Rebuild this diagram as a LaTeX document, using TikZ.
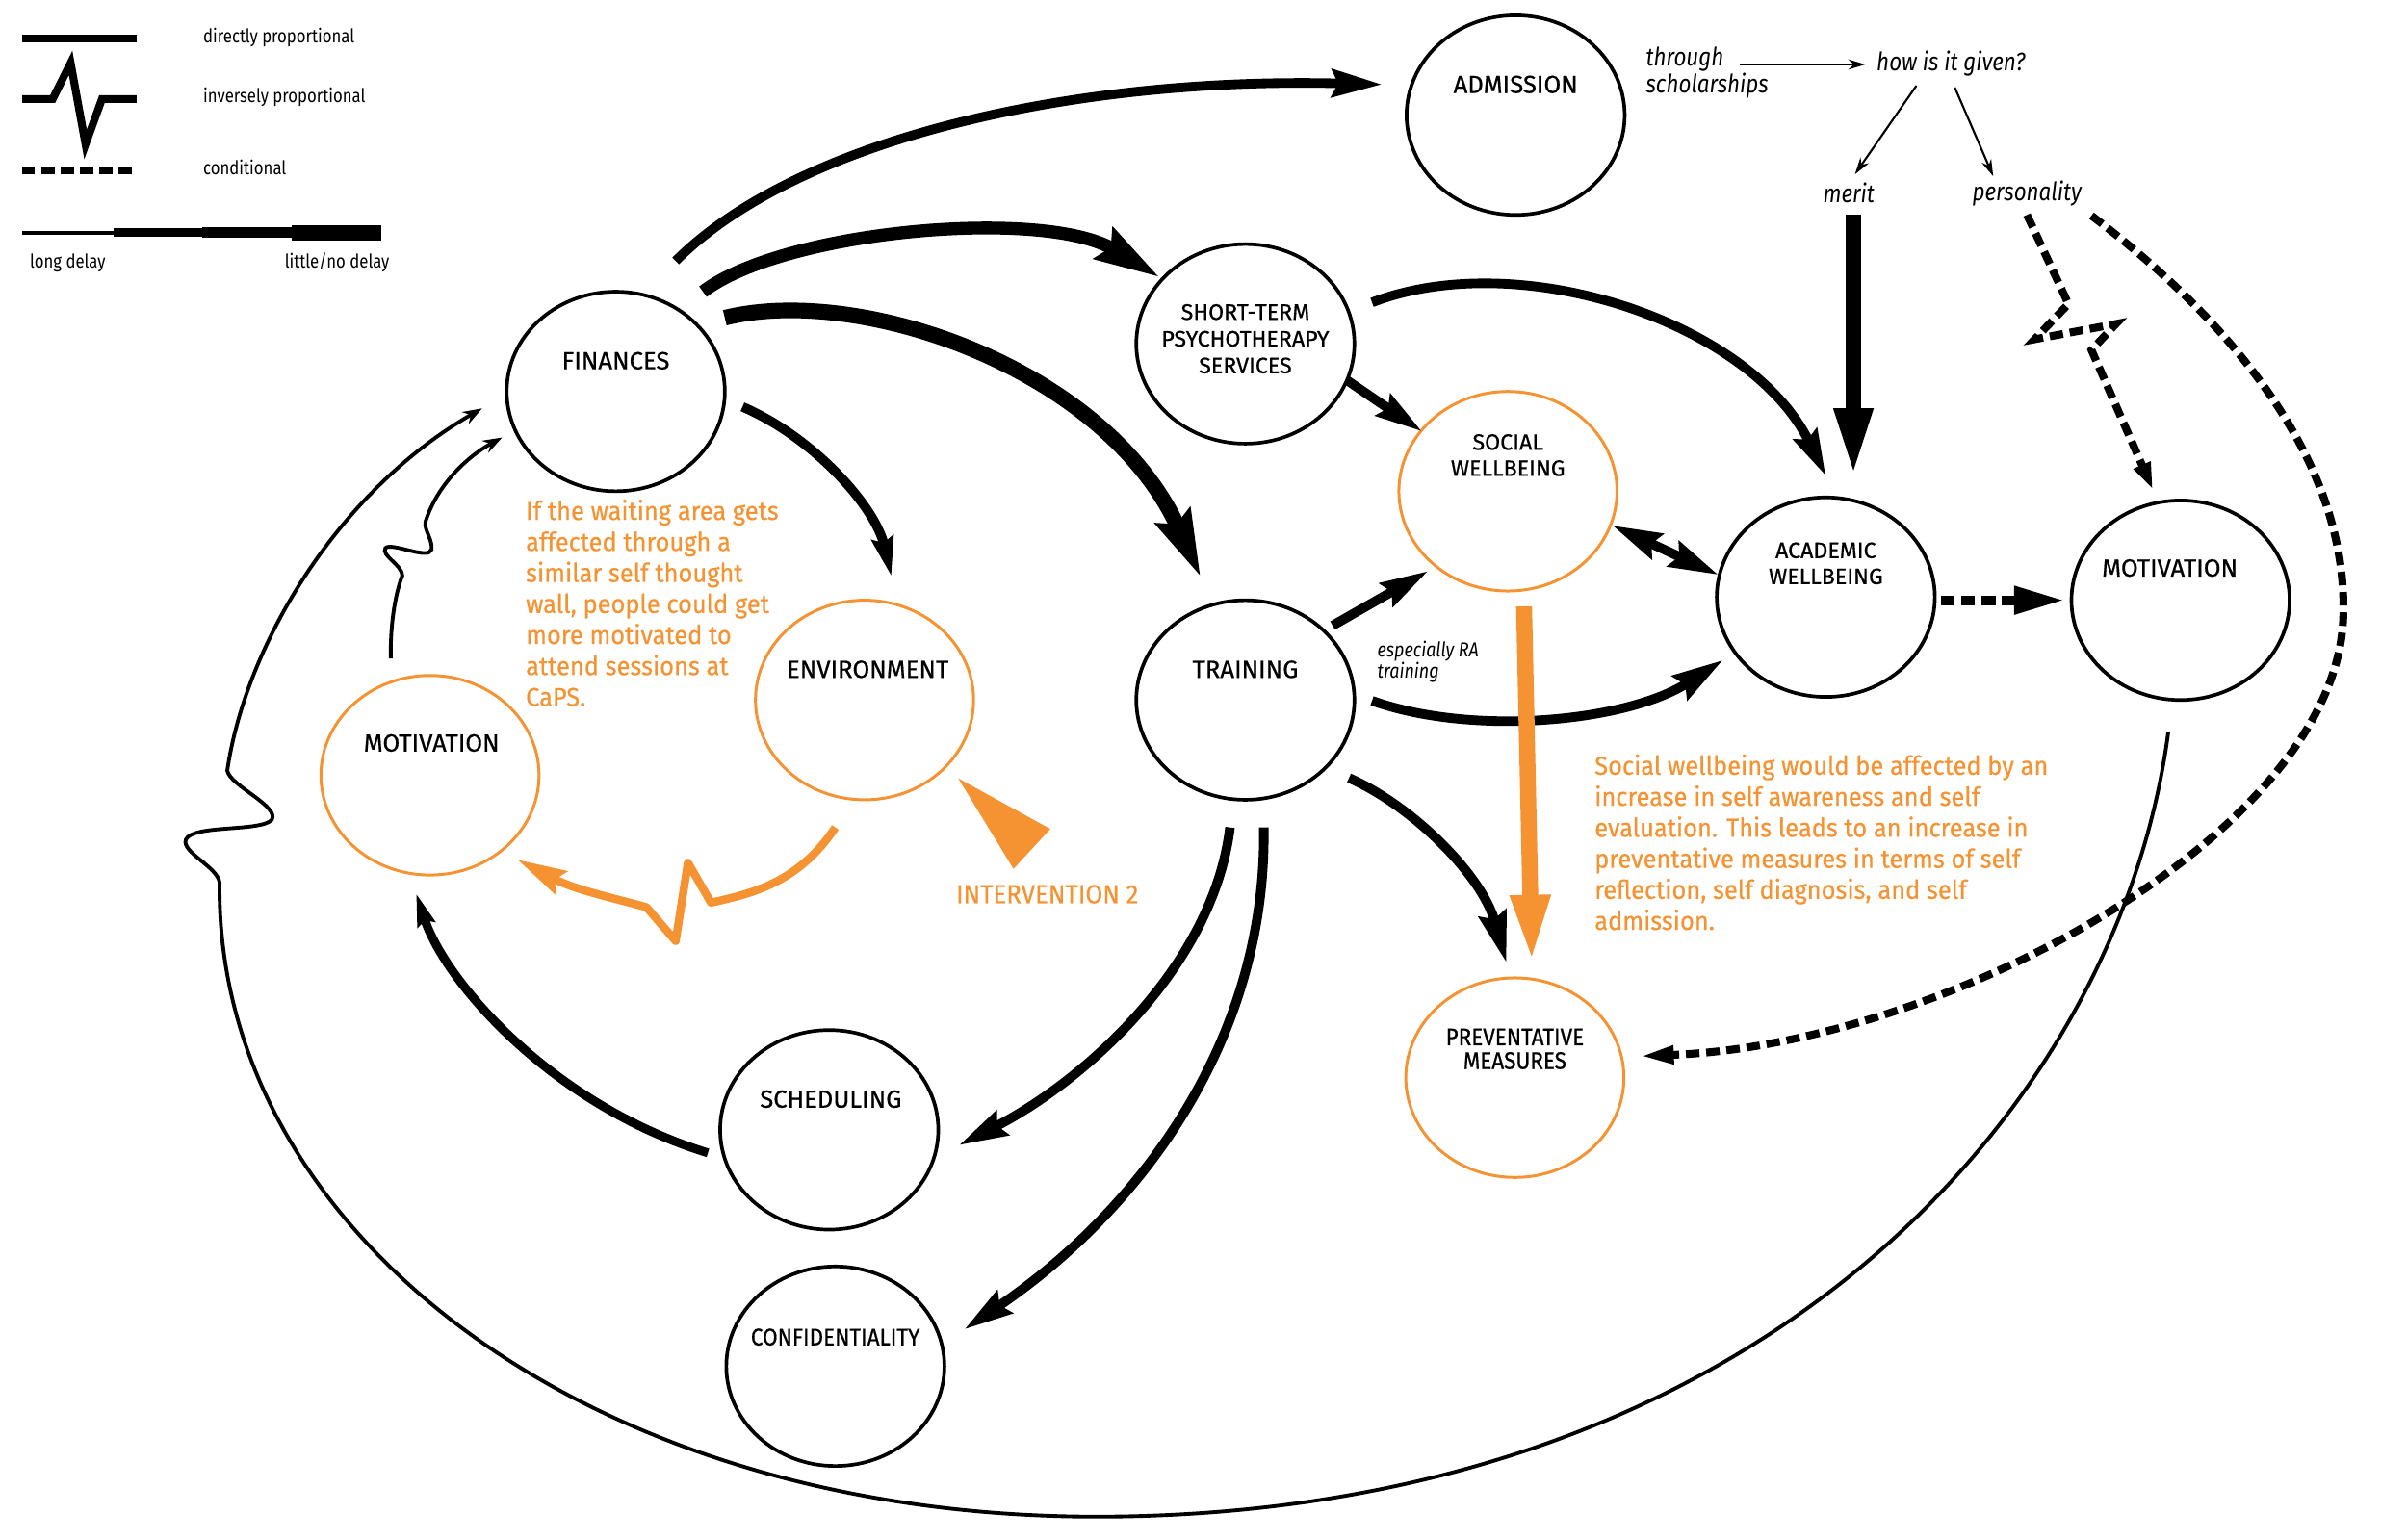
\documentclass[tikz,border=0pt]{standalone}
\usepackage{fontspec}
\setmainfont{Fira Sans}
\newfontfamily\cond[FakeStretch=0.85]{Fira Sans}
\newfontfamily\labf[FakeBold=0.6]{Fira Sans}
\newfontfamily\labc[FakeStretch=0.9,FakeBold=0.6]{Fira Sans}
\newfontfamily\ofont[FakeStretch=0.94,FakeBold=0.45]{Fira Sans}
\usetikzlibrary{arrows.meta,calc,shapes.geometric}
\definecolor{org}{RGB}{245,147,50}
\begin{document}
\begin{tikzpicture}[x=0.015949cm,y=-0.015949cm,
  nd/.style={ellipse,draw=black,line width=1.05pt,minimum width=2.265cm,minimum height=2.073cm,inner sep=0pt},
  ond/.style={nd,draw=org,line width=0.85pt},
  lab/.style={font=\labf\fontsize{7.3}{7.8}\selectfont,inner sep=0pt,align=center},
  labm/.style={font=\labf\fontsize{6.6}{#1}\selectfont,inner sep=0pt,align=center},
  labs/.style={font=\labc\fontsize{7.1}{7}\selectfont,inner sep=0pt,align=center},
  otext/.style={font=\ofont\fontsize{7.7}{9.17}\selectfont,text=org,inner sep=0pt,align=left},
  itx/.style={font=\cond\itshape\fontsize{7.5}{8}\selectfont,inner sep=0pt,align=left},
  leg/.style={font=\cond\fontsize{5.6}{6}\selectfont,inner sep=0pt},
  tipA/.style={-{Stealth[length=#1,width=0.55*#1,inset=0.12*#1]}},
  con/.style={line width=#1},
]
\useasboundingbox (0,0) rectangle (1567.5,1002.6);

% ---------- legend ----------
\draw[line width=2.3pt] (14.5,25) -- (89,25);
\draw[line width=2.3pt,miter limit=10] (14.5,64.5) -- (34.3,64.5) -- (46,41) -- (55.7,94) -- (66.4,64.5) -- (89,64.5);
\draw[line width=2.3pt,dash pattern=on 3.8pt off 1.9pt] (14.5,110.7) -- (89,110.7);
\draw[line width=1.1pt] (14.5,151.5) -- (73.7,151.5);
\draw[line width=2.6pt] (73.7,151.5) -- (131.8,151.5);
\draw[line width=3.3pt] (131.8,151.5) -- (190,151.5);
\draw[line width=4.5pt] (190,151.5) -- (248.5,151.5);
\node[leg,anchor=west] (lg1) at (132,24.6) {directly proportional};
\node[leg,anchor=west] (lg2) at (132,63.3) {inversely proportional};
\node[leg,anchor=west] (lg3) at (132,109) {conditional};
\node[leg,anchor=west] (lg4) at (19,171) {long delay};
\node[leg,anchor=west] (lg5) at (185,171) {little/no delay};

% ---------- nodes ----------
\node[nd]  (fin)   at (401,255) {};
\node[ond] (env)   at (563,456) {};
\node[ond] (motL)  at (280,505) {};
\node[nd]  (sched) at (540,736) {};
\node[nd]  (conf)  at (544,890) {};
\node[nd]  (train) at (811,456) {};
\node[nd]  (short) at (811,224) {};
\node[nd]  (adm)   at (987,75) {};
\node[ond] (soc)   at (982,320) {};
\node[nd]  (acad)  at (1189,389) {};
\node[nd]  (motR)  at (1420,391) {};
\node[ond] (prev)  at (986.5,702) {};

\node[lab] (finT)   at ($(fin)+(0,-20)$) {FINANCES};
\node[lab] (envT)   at ($(env)+(2,-20)$) {ENVIRONMENT};
\node[lab] (motLT)  at ($(motL)+(1,-21)$) {MOTIVATION};
\node[lab] (schedT) at ($(sched)+(1,-20)$) {SCHEDULING};
\node[labs] (confT) at ($(conf)+(0,-19)$) {CONFIDENTIALITY};
\node[lab] (trainT) at ($(train)+(0,-20)$) {TRAINING};
\node[labm=7.9] (shortT) at ($(short)+(0,-3.3)$) {SHORT-TERM\\PSYCHOTHERAPY\\SERVICES};
\node[lab] (admT)   at ($(adm)+(0,-20)$) {ADMISSION};
\node[labm=7.7] (socT)   at ($(soc)+(0,-23.5)$) {SOCIAL\\WELLBEING};
\node[labm=7.7] (acadT)  at ($(acad)+(0,-22)$) {ACADEMIC\\WELLBEING};
\node[lab] (motRT)  at ($(motR)+(-7,-21)$) {MOTIVATION};
\node[labs] (prevT) at ($(prev)+(0,-18.7)$) {PREVENTATIVE\\MEASURES};

% ---------- free texts ----------
\node[otext,anchor=north west] (note1) at (342,325) {If the waiting area gets\\affected through a\\similar self thought\\wall, people could get\\more motivated to\\attend sessions at\\CaPS.};
\node[otext,anchor=north west] (note2) at (1038,491) {Social wellbeing would be affected by an\\increase in self awareness and self\\evaluation. This leads to an increase in\\preventative measures in terms of self\\reflection, self diagnosis, and self\\admission.};
\node[font=\ofont\fontsize{7.8}{8}\selectfont,text=org,inner sep=0pt] (int2) at (682,582.5) {INTERVENTION 2};
\node[itx,anchor=north west] (thr) at (1071.5,30) {through\\scholarships};
\node[itx] (how) at (1270.5,41.6) {how is it given?};
\node[itx] (merit) at (1204,125.8) {merit};
\node[itx] (pers) at (1320,125.8) {personality};
\node[itx,font=\cond\itshape\fontsize{6}{6.4}\selectfont,anchor=north west] (ra) at (896.6,417) {especially RA\\training};

% intervention triangle
\fill[org] (624,507) -- (684,540) -- (660,566) -- cycle;

% ---------- connectors ----------
% finances outgoing
\draw[con=2.8pt,tipA=14.7pt] ($(fin)+(39,-85)$) .. controls (520,90) and (700,50) .. ($(adm)+(-87,-20)$);
\draw[con=3.8pt,tipA=19pt] ($(fin)+(56.8,-65)$) .. controls (510,150) and (680,135) .. ($(short)+(-56,-43.5)$);
\draw[con=4.6pt,tipA=19.5pt] ($(fin)+(71,-48)$) .. controls (560,185) and (720,240) .. ($(train)+(-29,-80)$);
\draw[con=2.8pt,tipA=11.5pt] ($(fin)+(82.5,10)$) .. controls (530,285) and (570,330) .. ($(env)+(17.5,-80.5)$);

% short-term outgoing
\draw[con=2.8pt,tipA=13.7pt] ($(short)+(66,23.6)$) -- ($(soc)+(-56,-39)$);
\draw[con=2.8pt,tipA=13.6pt] ($(short)+(82.5,-27)$) .. controls (990,160) and (1140,210) .. ($(acad)+(0,-79)$);

% training outgoing
\draw[con=2.8pt,tipA=14pt] ($(train)+(56.8,-48.5)$) -- ($(soc)+(-52,52)$);
\draw[con=2.8pt,tipA=15pt] ($(train)+(82.5,0.5)$) .. controls (960,480) and (1060,470) .. ($(acad)+(-67,41)$);
\draw[con=2.8pt,tipA=15pt] ($(train)+(67.5,50.8)$) .. controls (920,525) and (965,570) .. ($(prev)+(-5.5,-75)$);
\draw[con=2.8pt,tipA=14.3pt] ($(train)+(-10,83)$) .. controls (790,630) and (705,705) .. ($(sched)+(84.5,10)$);
\draw[con=2.8pt,tipA=14.3pt] ($(train)+(12,83)$) .. controls (825,680) and (740,790) .. ($(conf)+(84,-24)$);

% scheduling -> motivation
\draw[con=2.6pt,tipA=9.5pt] ($(sched)+(-79,15)$) .. controls (360,720) and (290,640) .. ($(motL)+(-9,77)$);

% social <-> academic
\draw[con=2.8pt,{Stealth[length=14.5pt,width=8pt,inset=1.8pt]}-{Stealth[length=14.5pt,width=8pt,inset=1.8pt]}] ($(soc)+(68,22.3)$) -- ($(acad)+(-70,-14.6)$);

% social -> preventative (orange)
\draw[org,con=4.7pt,-{Triangle[length=20pt,width=10.7pt]}] ($(soc)+(10.5,75)$) -- ($(prev)+(11,-75)$);

% academic -> motivation (dashed)
\draw[con=2.8pt,dash pattern=on 4.1pt off 1.9pt,-{Triangle[length=15pt,width=7.8pt]}] ($(acad)+(75,2)$) -- ($(motR)+(-75.4,0)$);

% admission details
\draw[line width=0.6pt,-{Stealth[length=5pt,width=3pt]}] ($(how.west)+(-89,0.4)$) -- ($(how.west)+(-7,0.4)$);
\draw[line width=0.6pt,-{Stealth[length=5pt,width=3pt]}] ($(how)+(-22.5,14.2)$) -- ($(merit)+(4,-12.3)$);
\draw[line width=0.6pt,-{Stealth[length=5pt,width=3pt]}] ($(how)+(2.5,15.4)$) -- ($(pers)+(-22,-11)$);
\draw[con=4.4pt,-{Triangle[length=20pt,width=10.5pt]}] ($(merit)+(3,14.2)$) -- ($(acad)+(18,-79)$);
\draw[con=2.3pt,dash pattern=on 4pt off 2pt,miter limit=10,-{Triangle[length=8pt,width=5pt]}] ($(pers)+(0,14.2)$) -- (1347,198) -- (1325,221) -- (1378,211) -- (1362,228) -- ($(motR)+(-18,-72)$);
\draw[con=2.3pt,dash pattern=on 4pt off 2pt,-{Triangle[length=10pt,width=5pt]}] ($(pers)+(42,14.7)$) .. controls (1480,230) and (1528,320) .. (1526,400) .. controls (1524,540) and (1270,680) .. ($(prev)+(81.5,-14)$);

% environment -> motivation (orange, inverse)
\draw[org,con=2.4pt,line join=round,-{Stealth[length=14.5pt,width=7.5pt,inset=2pt]}] ($(env)+(-19,83)$) .. controls (520,575) and (490,582) .. (463,588) -- (448,562) -- (440,613) -- (421,591) .. controls (400,585) and (375,580) .. ($(motL)+(57,55)$);

% motivation -> finances (inverse, thin)
\draw[con=1.1pt,-{Stealth[length=5.7pt,width=4pt]}] ($(motL)+(-25.5,-76)$) .. controls (254,405) and (258,385) .. (262,375) .. controls (262,368) and (248,362) .. (251,357) .. controls (255,353) and (279,365) .. (281,358) .. controls (282,352) and (276,345) .. (277,340) .. controls (285,315) and (305,297) .. ($(fin)+(-74,30)$);

% big outer loop: motivation (right) -> finances
\draw[con=1.1pt,-{Stealth[length=5.7pt,width=4pt]}] ($(motR)+(-8,86)$) .. controls (1380,720) and (1150,985) .. (720,988) .. controls (380,990) and (140,800) .. (143,575) .. controls (142,565) and (118,555) .. (121,547) .. controls (125,537) and (170,542) .. (177,534) .. controls (182,525) and (150,512) .. (148,502) .. controls (160,420) and (220,320) .. ($(fin)+(-87,11)$);
\end{tikzpicture}
\end{document}
